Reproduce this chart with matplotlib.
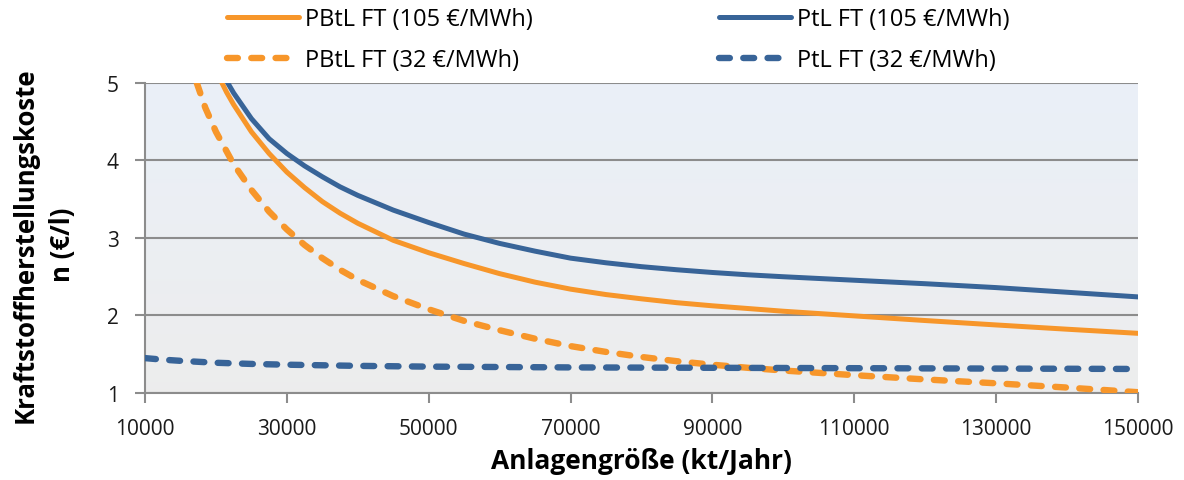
import matplotlib
matplotlib.use("Agg")
import matplotlib.pyplot as plt
import numpy as np

plt.rcParams['font.family'] = ['Open Sans', 'DejaVu Sans']

# PBtL FT, 105 €/MWh
x_pbtl_105 = [20850, 21500, 22500, 25000, 27500, 30000, 32500, 35000, 37500, 40000,
              45000, 50000, 55000, 60000, 65000, 70000, 75000, 80000, 85000, 90000,
              95000, 100000, 110000, 120000, 130000, 140000, 150000]
y_pbtl_105 = [5.00, 4.88, 4.72, 4.37, 4.09, 3.85, 3.65, 3.47, 3.32, 3.19,
              2.97, 2.81, 2.67, 2.54, 2.43, 2.34, 2.27, 2.215, 2.165, 2.125,
              2.09, 2.055, 1.995, 1.935, 1.878, 1.823, 1.77]

# PtL FT, 105 €/MWh
x_ptl_105 = [21670, 22500, 25000, 27500, 30000, 32500, 35000, 37500, 40000,
             45000, 50000, 55000, 60000, 65000, 70000, 75000, 80000, 85000, 90000,
             95000, 100000, 110000, 120000, 130000, 140000, 150000]
y_ptl_105 = [5.00, 4.87, 4.54, 4.28, 4.09, 3.93, 3.79, 3.66, 3.55,
             3.36, 3.20, 3.05, 2.93, 2.83, 2.74, 2.68, 2.63, 2.59, 2.555,
             2.525, 2.50, 2.455, 2.41, 2.36, 2.30, 2.24]

# PBtL FT, 32 €/MWh
x_pbtl_32 = [17300, 18500, 20000, 22500, 25000, 27500, 30000, 32500, 35000, 37500, 40000,
             45000, 50000, 55000, 60000, 65000, 70000, 75000, 80000, 85000, 90000,
             95000, 100000, 110000, 120000, 130000, 140000, 150000]
y_pbtl_32 = [5.00, 4.68, 4.37, 3.95, 3.62, 3.34, 3.11, 2.91, 2.74, 2.59, 2.46,
             2.25, 2.08, 1.93, 1.81, 1.70, 1.605, 1.53, 1.465, 1.41, 1.365,
             1.325, 1.29, 1.23, 1.175, 1.125, 1.07, 1.01]

# PtL FT, 32 €/MWh
x_ptl_32 = [10000, 12500, 15000, 20000, 25000, 30000, 40000, 50000, 60000, 70000,
            90000, 110000, 130000, 150000]
y_ptl_32 = [1.45, 1.43, 1.415, 1.39, 1.375, 1.365, 1.35, 1.34, 1.335, 1.33,
            1.325, 1.32, 1.315, 1.31]

x_ticks = [10000, 30000, 50000, 70000, 90000, 110000, 130000, 150000]
y_ticks = [1, 2, 3, 4, 5]

orange = '#F7962A'
blue = '#386498'
grid_gray = '#8C8C8C'
dash = (0, (1.7, 2.1))

fig = plt.figure(figsize=(11.84, 4.81), dpi=100)
ax = fig.add_axes([0.1225, 0.1809, 0.8385, 0.6445])

# soft vertical gradient behind the plot area
grad = np.linspace(0, 1, 256).reshape(-1, 1)
top_c = np.array([0.918, 0.941, 0.973])
bot_c = np.array([0.929, 0.929, 0.929])
img = top_c * (1 - grad)[..., None] + bot_c * grad[..., None]
ax.imshow(img, extent=[10000, 150000, 1, 5], aspect='auto', zorder=0,
          interpolation='bilinear')

for yv in y_ticks:
    ax.axhline(yv, color=grid_gray, lw=1.5, zorder=1)

ax.plot(x_pbtl_105, y_pbtl_105, color=orange, lw=3.6, zorder=3,
        solid_capstyle='round', solid_joinstyle='round', label='PBtL FT (105 €/MWh)')
ax.plot(x_pbtl_32, y_pbtl_32, color=orange, lw=4.6, zorder=3, linestyle=dash,
        dash_capstyle='round', label='PBtL FT (32 €/MWh)')
ax.plot(x_ptl_105, y_ptl_105, color=blue, lw=3.6, zorder=3,
        solid_capstyle='round', solid_joinstyle='round', label='PtL FT (105 €/MWh)')
ax.plot(x_ptl_32, y_ptl_32, color=blue, lw=4.6, zorder=3, linestyle=dash,
        dash_capstyle='round', label='PtL FT (32 €/MWh)')

ax.set_xlim(10000, 150000)
ax.set_ylim(1, 5)
ax.set_xticks(x_ticks)
ax.set_xticklabels([str(v) for v in x_ticks])
ax.set_yticks(y_ticks)
ax.tick_params(axis='both', colors=grid_gray, labelcolor='#1a1a1a', labelsize=15,
               length=7, width=1.5)
ax.tick_params(axis='x', pad=11)
ax.tick_params(axis='y', pad=12)

for s in ['top', 'right']:
    ax.spines[s].set_visible(False)
for s in ['left', 'bottom']:
    ax.spines[s].set_color(grid_gray)
    ax.spines[s].set_linewidth(1.5)

ax.set_xlabel('Anlagengröße (kt/Jahr)', fontsize=19, fontweight='bold', labelpad=6)
fig.text(0.021, 0.491, 'Kraftstoffherstellungskoste', rotation=90, fontsize=18.5,
         fontweight='bold', ha='center', va='center')
fig.text(0.053, 0.491, 'n (€/l)', rotation=90, fontsize=18.5,
         fontweight='bold', ha='center', va='center')

fig.legend(loc='upper left', bbox_to_anchor=(0.1737, 1.028), ncol=2, frameon=False,
           fontsize=17, handlelength=3.05, handletextpad=0.25, columnspacing=7.9,
           labelspacing=0.75)

fig.savefig('out.png', dpi=100)
